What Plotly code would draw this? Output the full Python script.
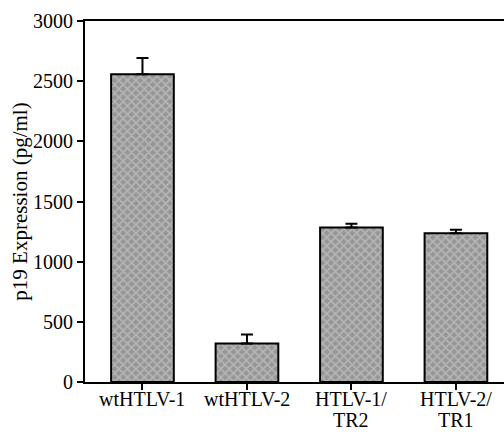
import plotly.graph_objects as go

categories = ["wtHTLV-1", "wtHTLV-2", "HTLV-1/<br>TR2", "HTLV-2/<br>TR1"]
values = [2558, 320, 1283, 1236]
errors = [135, 75, 33, 30]
y_ticks = [0, 500, 1000, 1500, 2000, 2500, 3000]

xs = list(range(len(categories)))
fig = go.Figure()
fig.add_trace(go.Bar(
    x=xs,
    y=values,
    width=0.6,
    marker=dict(
        color="#ababab",
        line=dict(color="black", width=2),
        pattern=dict(shape="x", fgcolor="#d6d6d6", bgcolor="#969696", size=6, solidity=0.45),
    ),
    error_y=dict(type="data", symmetric=False, array=errors, arrayminus=[0]*len(errors),
                 color="black", thickness=2, width=6),
))

font_family = "Liberation Serif, Times New Roman, serif"
for xv, lab in zip(xs, categories):
    for i, line in enumerate(lab.split("<br>")):
        fig.add_annotation(x=xv, xref="x", y=0, yref="paper", yanchor="top",
                           yshift=-5 - 21 * i,
                           text=line, showarrow=False, borderpad=0,
                           font=dict(size=20, family=font_family, color="black"))

fig.update_layout(
    width=504, height=432,
    margin=dict(l=85, r=0, t=21, b=50),
    paper_bgcolor="white", plot_bgcolor="white",
    showlegend=False,
    font=dict(family=font_family, size=20, color="black"),
    bargap=0.4,
)
fig.update_xaxes(
    range=[-0.55, 3.46], automargin=False,
    tickmode="array", tickvals=xs, showticklabels=False,
    showline=True, linecolor="black", linewidth=2, mirror=True,
    ticks="outside", ticklen=6, tickwidth=2, tickcolor="black",
    showgrid=False, zeroline=False,
)
fig.update_yaxes(
    range=[0, 3000], automargin=False,
    tickmode="array", tickvals=y_ticks,
    showline=True, linecolor="black", linewidth=2,
    ticks="outside", ticklen=6, tickwidth=2, tickcolor="black",
    showgrid=False, zeroline=False,
    title=dict(text="p19 Expression (pg/ml)", font=dict(size=21, family=font_family), standoff=0),
    tickfont=dict(size=20, family=font_family),
)

fig.write_html("out.html", config={"displayModeBar": False},
               post_script="document.body.style.margin='0';document.body.style.padding='0';")
